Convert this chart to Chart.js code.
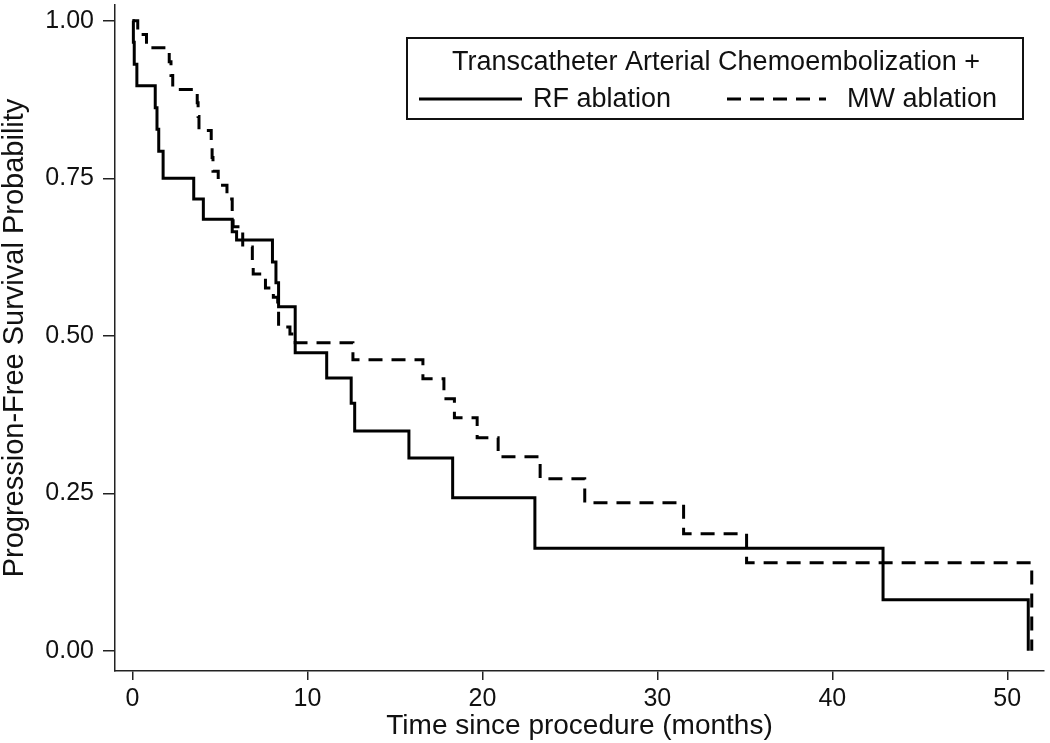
<!DOCTYPE html>
<html>
<head>
<meta charset="utf-8">
<script src="https://cdn.jsdelivr.net/npm/chart.js@4.4.1/dist/chart.umd.min.js"></script>
<style>
  html, body { margin: 0; padding: 0; background: #fff; }
  #wrap { width: 1050px; height: 743px; }
</style>
</head>
<body>
<div id="wrap"><canvas id="km" width="1050" height="743"></canvas></div>
<script>
// Kaplan-Meier step data (time in months, survival after the step)
const rfTime = [0, 0.05, 0.1, 0.25, 1.3, 1.4, 1.5, 1.75, 3.5, 4.05, 5.7, 5.95, 8.0, 8.2, 8.35, 9.3, 11.1, 12.5, 12.7, 15.8, 18.3, 23.0, 42.9, 51.2];
const rfSurv = [1.0, 0.966, 0.931, 0.897, 0.862, 0.828, 0.793, 0.75, 0.717, 0.685, 0.665, 0.652, 0.617, 0.584, 0.546, 0.473, 0.433, 0.393, 0.349, 0.306, 0.243, 0.163, 0.081, 0.0];

const mwTime = [0, 0.3, 0.8, 2.1, 2.2, 2.3, 3.7, 3.75, 3.8, 4.5, 4.55, 4.6, 4.9, 5.4, 5.7, 5.75, 6.3, 6.85, 6.9, 7.6, 8.05, 8.3, 8.35, 9.0, 9.3, 12.6, 16.6, 17.8, 18.4, 19.7, 20.9, 23.3, 25.85, 31.5, 35.1, 51.4];
const mwSurv = [1.0, 0.978, 0.957, 0.935, 0.913, 0.891, 0.87, 0.848, 0.826, 0.804, 0.783, 0.761, 0.739, 0.717, 0.696, 0.673, 0.641, 0.62, 0.598, 0.576, 0.561, 0.539, 0.514, 0.503, 0.489, 0.462, 0.432, 0.40, 0.37, 0.338, 0.308, 0.273, 0.235, 0.186, 0.14, 0.0];

const xTicks = [0, 10, 20, 30, 40, 50];
const yTicks = [0, 0.25, 0.5, 0.75, 1];

const legendTitle = 'Transcatheter Arterial Chemoembolization +';
const seriesNames = ['RF ablation', 'MW ablation'];

const FONT = '"Liberation Sans", Arial, Helvetica, sans-serif';
const DASH = [14, 9];

const toPoints = (t, s) => t.map((v, i) => ({ x: v, y: s[i] }));

// Boxed legend drawn in the upper right of the plot
const boxLegend = {
    id: 'boxLegend',
    afterDraw(chart) {
        const ctx = chart.ctx;
        ctx.save();
        ctx.strokeStyle = '#111';
        ctx.lineWidth = 2;
        ctx.strokeRect(407, 38, 616, 81);

        ctx.fillStyle = '#111';
        ctx.font = '27px ' + FONT;
        ctx.textBaseline = 'middle';
        ctx.textAlign = 'center';
        ctx.fillText(legendTitle, 716, 63);

        ctx.textAlign = 'left';
        ctx.lineWidth = 3;
        ctx.strokeStyle = '#000';
        ctx.beginPath();
        ctx.moveTo(419, 99);
        ctx.lineTo(522, 99);
        ctx.stroke();
        ctx.fillText(seriesNames[0], 533, 100);

        ctx.setLineDash(DASH);
        ctx.beginPath();
        ctx.moveTo(727, 99);
        ctx.lineTo(826, 99);
        ctx.stroke();
        ctx.setLineDash([]);
        ctx.fillText(seriesNames[1], 847, 100);
        ctx.restore();
    }
};

new Chart(document.getElementById('km'), {
    type: 'scatter',
    data: {
        datasets: [{
            label: seriesNames[0],
            data: toPoints(rfTime, rfSurv),
            showLine: true,
            stepped: 'before',
            borderColor: '#000',
            borderWidth: 3,
            pointRadius: 0,
            fill: false
        }, {
            label: seriesNames[1],
            data: toPoints(mwTime, mwSurv),
            showLine: true,
            stepped: 'before',
            borderColor: '#000',
            borderWidth: 3,
            borderDash: DASH,
            pointRadius: 0,
            fill: false
        }]
    },
    options: {
        responsive: false,
        animation: false,
        devicePixelRatio: 1,
        layout: { padding: { top: 5, right: 6, left: 0, bottom: 0 } },
        plugins: {
            legend: { display: false },
            tooltip: { enabled: false }
        },
        scales: {
            x: {
                type: 'linear',
                min: -1,
                max: 52.1,
                afterBuildTicks: (scale) => { scale.ticks = xTicks.map(v => ({ value: v })); },
                afterFit: (scale) => {
                    scale.height = 72;
                    scale.paddingLeft = 0;
                    scale.paddingRight = 0;
                },
                grid: { drawOnChartArea: false, drawTicks: true, tickLength: 9, color: '#222', lineWidth: 1.5 },
                border: { display: true, color: '#222', width: 1.5 },
                ticks: {
                    color: '#111',
                    padding: 4,
                    maxRotation: 0,
                    font: { family: FONT, size: 25 },
                    callback: (v) => String(v)
                },
                title: {
                    display: true,
                    text: 'Time since procedure (months)',
                    color: '#111',
                    font: { family: FONT, size: 28, lineHeight: 1.2 },
                    padding: { top: 5, bottom: 0 }
                }
            },
            y: {
                type: 'linear',
                min: -0.032,
                max: 1.025,
                afterBuildTicks: (scale) => { scale.ticks = yTicks.map(v => ({ value: v })); },
                afterFit: (scale) => {
                    scale.width = 115;
                    scale.paddingTop = 0;
                    scale.paddingBottom = 0;
                },
                grid: { drawOnChartArea: false, drawTicks: true, tickLength: 12, color: '#222', lineWidth: 1.5 },
                border: { display: true, color: '#222', width: 1.5 },
                ticks: {
                    color: '#111',
                    padding: 9,
                    font: { family: FONT, size: 25 },
                    callback: (v) => Number(v).toFixed(2)
                },
                title: {
                    display: true,
                    text: 'Progression-Free Survival Probability',
                    color: '#111',
                    font: { family: FONT, size: 29, lineHeight: 1.05 },
                    padding: { top: 0, bottom: 0 }
                }
            }
        }
    },
    plugins: [boxLegend]
});
</script>
</body>
</html>
